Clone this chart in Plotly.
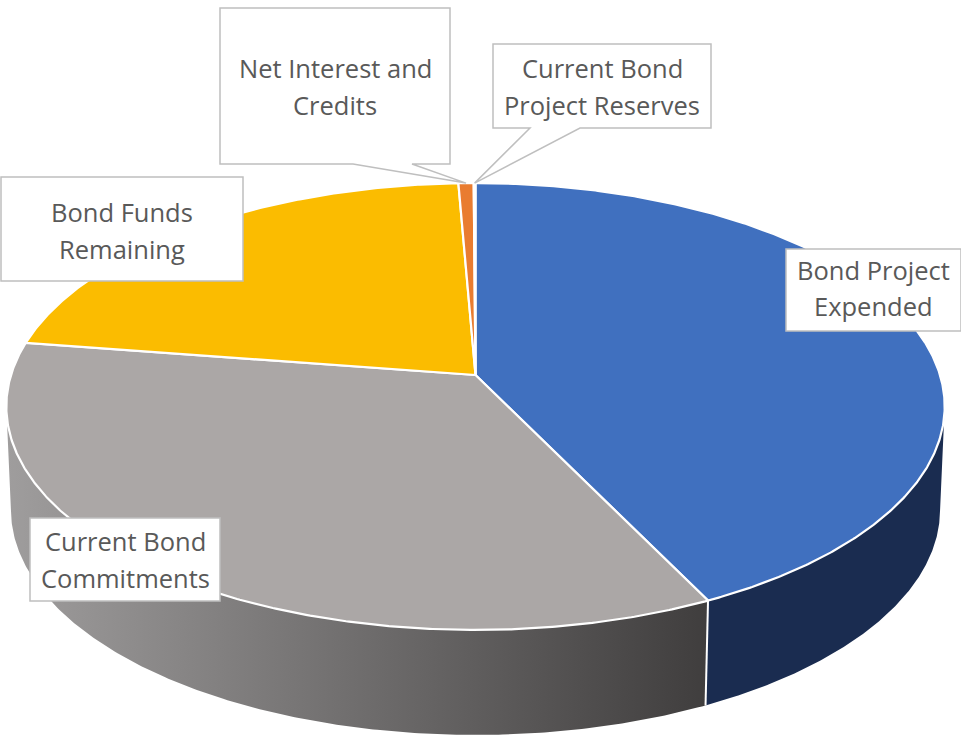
import numpy as np
import plotly.graph_objects as go

# ---- data (percent of the pie, clockwise from 12 o'clock)
slice_names = ["Bond Project Expended", "Current Bond Commitments", "Bond Funds Remaining",
               "Net Interest and Credits", "Current Bond Project Reserves"]
slice_values = [42.8, 34.6, 21.93, 0.6, 0.07]
slice_colors = ["#4070BF", "#ABA7A6", "#FBBC00", "#E97C30", "#BFC4CC"]
wall_colors = ["#1A2C50", None, None, None, None]

# label lines, one list per slice
label_lines = [["Bond Project", "Expended"], ["Current Bond", "Commitments"],
               ["Bond Funds", "Remaining"], ["Net Interest and", "Credits"],
               ["Current Bond", "Project Reserves"]]

# ---- layout constants (canvas pixels)
W, H = 961, 735
CX = 475.5
TOP = dict(c=375.0, a=464.5, b=219.0, k=0.141)
BOT = dict(c=478.0, a=460.0, b=221.0, k=0.140)
# label boxes x0, y0, x1, y1, and the y of the text lines
boxes = [(786, 249, 961, 331), (30, 518, 220, 601), (1, 177, 243, 281),
         (220, 8, 450, 164), (493, 44, 711, 128)]
line_y = [(270, 306), (541, 578), (212, 249), (68, 105), (68, 105)]
# callout wedges on the box's bottom edge, for slices with leaders
wedges = {3: (353, 412), 4: (530, 580)}
FONT = dict(family="Open Sans", size=25.5, color="#595959")
BORDER = "#BFBFBF"


def project(t, p):
    """Clockwise angle (degrees from the back of the pie) to canvas pixels."""
    r = np.radians(t)
    u, v = np.sin(r), np.cos(r)
    d = 1 + p["k"] * v
    return CX + p["a"] * u / d, p["c"] - p["b"] * v / d


def arc(t0, t1, p, n=240):
    return project(np.linspace(t0, t1, max(2, n)), p)


angles = np.concatenate([[0], np.cumsum(slice_values)]) / sum(slice_values) * 360

# silhouette angles: where the rims reach furthest left and right
probe = np.linspace(0, 360, 3601)
px, _ = project(probe, TOP)
t_right = probe[np.argmax(px)]
t_left = probe[np.argmin(px)]

fig = go.Figure()

# ---- side walls
for i in range(len(slice_values)):
    a0, a1 = max(angles[i], t_right), min(angles[i + 1], t_left)
    if a1 <= a0:
        continue
    tx, ty = arc(a0, a1, TOP)
    bx, by = arc(a0, a1, BOT)
    xs = np.concatenate([tx, bx[::-1]])
    ys = np.concatenate([ty, by[::-1]])
    style = dict(fillcolor=wall_colors[i]) if wall_colors[i] else dict(
        fillgradient=dict(type="horizontal", start=0, stop=705,
                          colorscale=[[0, "#A09E9E"], [1, "#403E3E"]]))
    fig.add_trace(go.Scatter(x=xs, y=ys, mode="lines", fill="toself",
                             line=dict(width=0), hoverinfo="skip",
                             showlegend=False, **style))

# ---- seam between the two visible walls
seam = angles[1]
sx0, sy0 = project(seam, TOP)
sx1, sy1 = project(seam, BOT)
fig.add_trace(go.Scatter(x=[sx0, sx1], y=[sy0, sy1], mode="lines",
                         line=dict(color="#FFFFFF", width=2),
                         hoverinfo="skip", showlegend=False))

# ---- top face
apex_x, apex_y = project(0, dict(TOP, a=0, b=0))
for i, name in enumerate(slice_names):
    n = int(max(4, (angles[i + 1] - angles[i]) * 3))
    ax, ay = arc(angles[i], angles[i + 1], TOP, n)
    fig.add_trace(go.Scatter(x=np.concatenate([[apex_x], ax, [apex_x]]),
                             y=np.concatenate([[apex_y], ay, [apex_y]]),
                             mode="lines", fill="toself", name=name,
                             fillcolor=slice_colors[i],
                             line=dict(color="#FFFFFF", width=2.2),
                             hoverinfo="name", showlegend=False))

# ---- label boxes and text
shapes, annotations = [], []
for i, (x0, y0, x1, y1) in enumerate(boxes):
    if i in wedges:
        mid = (angles[i] + angles[i + 1]) / 2
        tip_x, tip_y = project(mid, TOP)
        w0, w1 = wedges[i]
        path = (f"M{x0},{y0} L{x1},{y0} L{x1},{y1} L{w1},{y1} L{tip_x:.1f},{tip_y:.1f} "
                f"L{w0},{y1} L{x0},{y1} Z")
        shapes.append(dict(type="path", path=path, fillcolor="#FFFFFF",
                           line=dict(color=BORDER, width=1.5), xref="x", yref="y"))
    else:
        shapes.append(dict(type="rect", x0=x0, y0=y0, x1=x1, y1=y1, fillcolor="#FFFFFF",
                           line=dict(color=BORDER, width=1.5), xref="x", yref="y"))
    for text, y in zip(label_lines[i], line_y[i]):
        annotations.append(dict(x=(x0 + x1) / 2, y=y, text=text, showarrow=False,
                                xref="x", yref="y", xanchor="center", yanchor="middle",
                                font=FONT))

fig.update_layout(
    width=W, height=H, margin=dict(l=0, r=0, t=0, b=0),
    paper_bgcolor="#FFFFFF", plot_bgcolor="#FFFFFF", showlegend=False,
    xaxis=dict(range=[0, W], visible=False, fixedrange=True),
    yaxis=dict(range=[H, 0], visible=False, fixedrange=True),
    shapes=shapes, annotations=annotations,
)
fig.write_html("out.html", config=dict(displayModeBar=False),
               post_script="document.body.style.margin='0';document.body.style.overflow='hidden';")
